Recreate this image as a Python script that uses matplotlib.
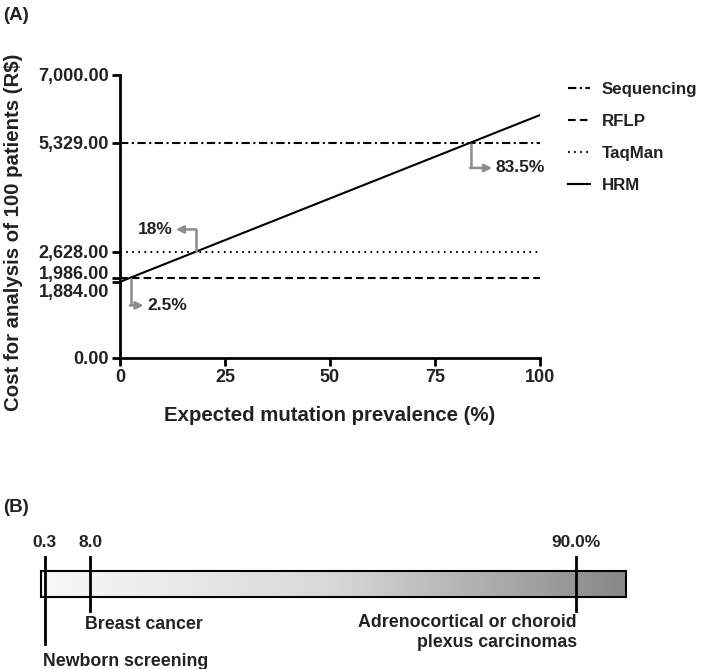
import numpy as np
import matplotlib
matplotlib.use('Agg')
import matplotlib.pyplot as plt
from matplotlib.colors import LinearSegmentedColormap
from matplotlib.transforms import ScaledTranslation

plt.rcParams['font.family'] = ['Liberation Sans', 'DejaVu Sans']
plt.rcParams['font.weight'] = 'bold'
plt.rcParams['axes.labelweight'] = 'bold'
plt.rcParams['lines.scale_dashes'] = False

TXT = '#222222'
GREY = '#8c8c8c'

# panel A data
prevalence = [0, 100]
seq_cost = [5329, 5329]
rflp_cost = [1986, 1986]
taqman_cost = [2628, 2628]
hrm_cost = [1884, 6010]
y_ticks = [0, 1884, 1986, 2628, 5329, 7000]
x_ticks = [0, 25, 50, 75, 100]

# crossing points of HRM with the other methods
cross_x = [2.5, 18, 83.5]
cross_y = [1986, 2628, 5329]
cross_lbl = ['2.5%', '18%', '83.5%']

# panel B data
marks_b = [0.3, 8.0, 90.0]
marks_lbl = ['0.3', '8.0', '90.0%']

fig = plt.figure(figsize=(7.02, 6.69), dpi=100)
W, H = 702, 669

# ---------- panel A
ax = fig.add_axes([120 / W, 1 - 358 / H, 420 / W, 283 / H])
lw = 1.5
ax.plot(prevalence, seq_cost, color='black', lw=lw, ls=(0, (6, 2.5, 1.5, 2.5)), label='Sequencing')
ax.plot(prevalence, rflp_cost, color='black', lw=lw, ls=(0, (5.5, 3)), label='RFLP')
ax.plot(prevalence, taqman_cost, color='black', lw=lw, ls=(0, (1.2, 3.2)), label='TaqMan')
ax.plot(prevalence, hrm_cost, color='black', lw=lw, ls='-', label='HRM')

ax.set_xlim(0, 100)
ax.set_ylim(0, 7000)
ax.set_xticks(x_ticks)
ax.set_yticks(y_ticks)
ax.set_yticklabels(['{:,.2f}'.format(v) for v in y_ticks])
for s in ['top', 'right']:
    ax.spines[s].set_visible(False)
for s in ['left', 'bottom']:
    ax.spines[s].set_linewidth(2)
ax.tick_params(direction='out', length=6, width=2, labelsize=13, pad=2, colors='black', labelcolor=TXT)

# nudge the two crowded labels apart
ticks = ax.yaxis.get_major_ticks()
ticks[1].label1.set_transform(ticks[1].label1.get_transform() + ScaledTranslation(0, -9 / 100, fig.dpi_scale_trans))
ticks[2].label1.set_transform(ticks[2].label1.get_transform() + ScaledTranslation(0, 5 / 100, fig.dpi_scale_trans))

ax.set_ylabel('Cost for analysis of 100 patients (R$)', fontsize=14.7, color=TXT)
ax.yaxis.set_label_coords(-0.232, 0.445)
ax.set_xlabel('Expected mutation prevalence (%)', fontsize=14.7, color=TXT)
ax.xaxis.set_label_coords(0.5, -0.17)

# elbow arrows (vertical end y, arrow tip x, text x, text align)
elbows = [(1300, 5.6, 6.4, 'left'), (3180, 13.3, 12.6, 'right'), (4700, 88.6, 89.3, 'left')]
for (x0, y0, lab), (y1, xt, xl, ha) in zip(zip(cross_x, cross_y, cross_lbl), elbows):
    ax.plot([x0, x0], [y0, y1], color=GREY, lw=1.8, solid_capstyle='butt')
    ax.annotate('', xy=(xt, y1), xytext=(x0 - (0.15 if xt > x0 else -0.15), y1),
                arrowprops=dict(arrowstyle='-|>', color=GREY, lw=1.8, mutation_scale=11,
                                shrinkA=0, shrinkB=0))
    ax.text(xl, y1, lab, ha=ha, va='center', fontsize=12.5, color=TXT)

ax.legend(loc='upper left', bbox_to_anchor=(568 / W, 1 - 82 / H), bbox_transform=fig.transFigure,
          frameon=False, fontsize=12.2, handlelength=1.3, handletextpad=0.7, labelspacing=1.0,
          borderpad=0, borderaxespad=0, labelcolor=TXT)

fig.text(3 / W, 1 - 16 / H, '(A)', fontsize=13.5, va='center', ha='left', color=TXT)

# ---------- panel B
bx = fig.add_axes([41 / W, 1 - 597 / H, 585 / W, 26 / H])
cmap = LinearSegmentedColormap.from_list('bar', ['#f8f8f8', '#d8d8d8', '#888888'])
bx.imshow(np.linspace(0, 1, 256)[None, :], cmap=cmap, extent=[-0.3, 98.5, 0, 1], aspect='auto')
bx.set_xlim(-0.3, 98.5)
bx.set_ylim(0, 1)
bx.set_xticks([])
bx.set_yticks([])
for s in bx.spines.values():
    s.set_linewidth(1.5)

bottoms = [-1.81, -0.54, -0.54]
for x, lab, yb in zip(marks_b, marks_lbl, bottoms):
    bx.plot([x, x], [yb, 1.54], color='black', lw=2, clip_on=False)
    bx.text(x, 2.1, lab, ha='center', va='center', fontsize=12.5, color=TXT)

bx.text(marks_b[0] - 0.3, -2.5, 'Newborn screening', ha='left', va='center', fontsize=12.8, color=TXT)
bx.text(marks_b[1] - 0.8, -1.05, 'Breast cancer', ha='left', va='center', fontsize=12.8, color=TXT)
bx.text(marks_b[2] + 0.2, -0.65, 'Adrenocortical or choroid\nplexus carcinomas', ha='right', va='top',
        fontsize=12.8, color=TXT, multialignment='right', linespacing=1.25)

fig.text(3 / W, 1 - 508 / H, '(B)', fontsize=13.5, va='center', ha='left', color=TXT)

plt.savefig('out.png', dpi=100)
plt.close()
